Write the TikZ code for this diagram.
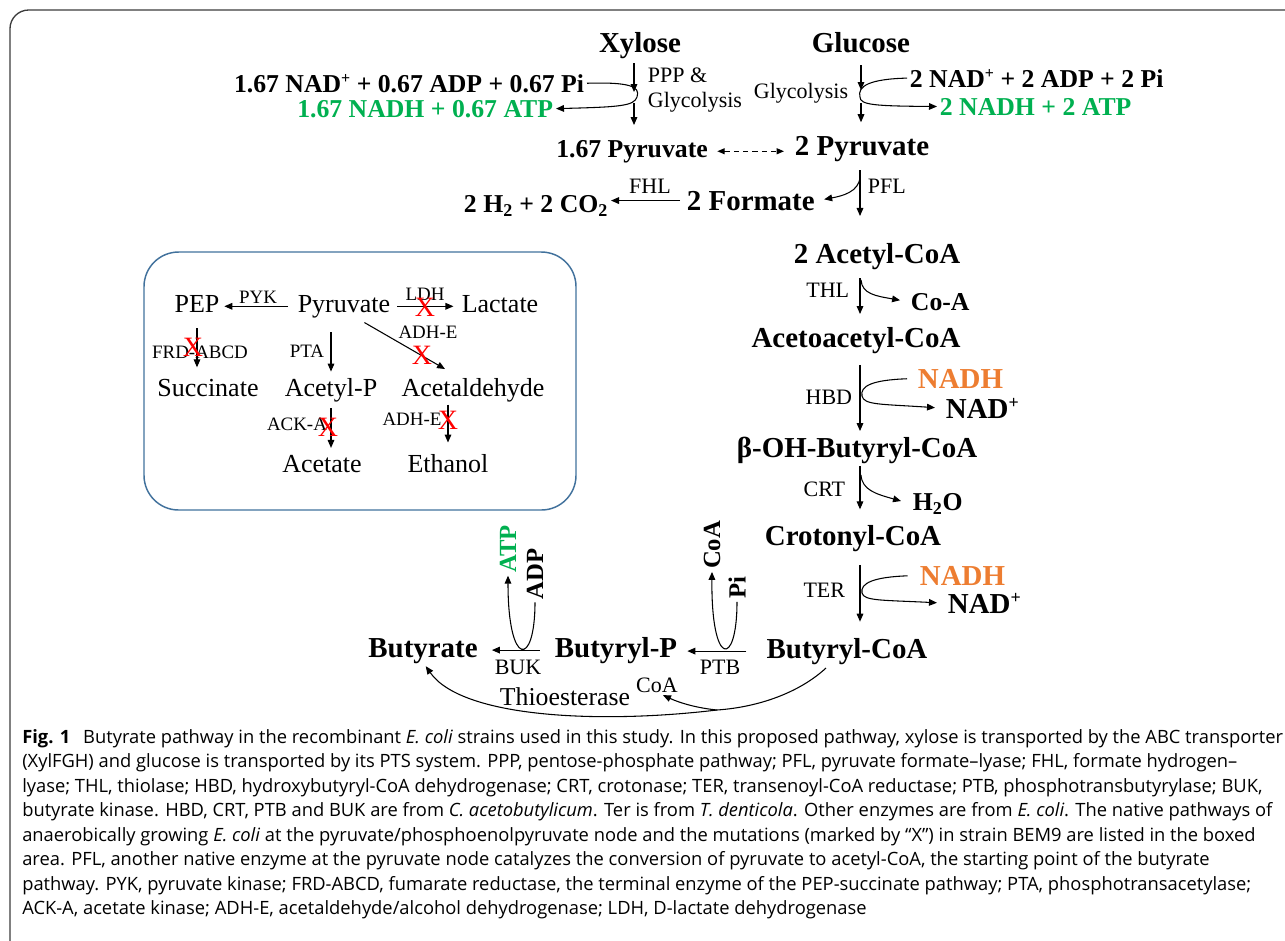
\documentclass[tikz,border=0pt]{standalone}
\usepackage{fontspec}
\setmainfont{Liberation Serif}
\newfontfamily\capfont{Open Sans}
\usepackage{tikz}
\usetikzlibrary{arrows.meta}
\definecolor{atpgreen}{RGB}{0,176,80}
\definecolor{nadhorange}{RGB}{237,125,49}
\definecolor{boxblue}{RGB}{65,113,156}
\definecolor{framegray}{RGB}{60,60,60}
\newcommand{\NADp}{NAD\raisebox{0.72ex}{\scalebox{0.62}{+}}}
\tikzset{
	inner sep=2pt,
	met/.style={font=\fontsize{21.7}{24}\selectfont\bfseries},
	cof/.style={font=\fontsize{19.3}{22}\selectfont\bfseries},
	gain/.style={cof,text=atpgreen},
	redox/.style={met,text=nadhorange},
	vcof/.style={font=\fontsize{18.5}{20}\selectfont\bfseries,rotate=90},
	enz/.style={font=\fontsize{16.5}{18}\selectfont},
	thio/.style={font=\fontsize{19.3}{22}\selectfont},
	boxmet/.style={font=\fontsize{19.5}{22}\selectfont},
	boxenz/.style={font=\fontsize{14.2}{16}\selectfont},
	knock/.style={text=red,font=\fontsize{21}{22}\selectfont,inner sep=0pt},
	pre/.style={-{Triangle[length=6pt,width=5pt]},line width=0.8pt},
	both/.style={{Triangle[length=5.5pt,width=4.5pt]}-{Triangle[length=5.5pt,width=4.5pt]},dash pattern=on 4pt off 3pt,line width=0.8pt},
	pool/.style={draw=boxblue,line width=1.1pt,rounded corners=26pt},
	frame/.style={draw=framegray,line width=1pt,rounded corners=14pt},
	capt/.style={font=\capfont\fontsize{13.75}{18.35}\selectfont,align=left,inner sep=0pt}
}

\begin{document}
\begin{tikzpicture}[x=0.75pt,y=-0.75pt]
\useasboundingbox (0,0) rectangle (1285,940);
\draw[frame] (10,945) -- (10,10) -- (1290,10);

% sugars and glycolysis
\node[met,anchor=base](Xylose) at (640,52) {Xylose};
\node[met,anchor=base](Glucose) at (861,52) {Glucose};
\node[cof,anchor=base east](NADx) at (587,92) {1.67 \NADp{} + 0.67 ADP + 0.67 Pi};
\node[gain,anchor=base east](NADHx) at (556,117) {1.67 NADH + 0.67 ATP};
\node[cof,anchor=base west](NADg) at (907,87) {2 \NADp{} + 2 ADP + 2 Pi};
\node[gain,anchor=base west](NADHg) at (937,115) {2 NADH + 2 ATP};
\node[enz,anchor=base west](PPP) at (645,82) {PPP \&};
\node[enz,anchor=base west](GlyX) at (645,107) {Glycolysis};
\node[enz,anchor=base east](GlyG) at (851,98) {Glycolysis};
\node[cof,anchor=base](PyrX) at (632,157) {1.67 Pyruvate};
\node[met,anchor=base](PyrG) at (862,155) {2 Pyruvate};
\node[met,anchor=base west](Formate) at (684,210) {2 Formate};
\node[cof,anchor=base east](Gas) at (611,212) {2 H\textsubscript{2} + 2 CO\textsubscript{2}};
\node[enz,anchor=base](FHL) at (650,193) {FHL};
\node[enz,anchor=base west](PFL) at (865,193) {PFL};

% butyrate pathway
\node[met,anchor=base](AcCoA) at (877,263) {2 Acetyl-CoA};
\node[enz,anchor=base east](THL) at (852,297) {THL};
\node[cof,anchor=base west](CoA1) at (908,310) {Co-A};
\node[met,anchor=base](AcAc) at (856,347) {Acetoacetyl-CoA};
\node[redox,anchor=base west](NADH1) at (915,388) {NADH};
\node[enz,anchor=base east](HBD) at (855,404) {HBD};
\node[met,anchor=base west](NAD1) at (943,418) {\NADp};
\node[met,anchor=base](OHBut) at (857,457) {β-OH-Butyryl-CoA};
\node[enz,anchor=base east](CRT) at (848,496) {CRT};
\node[cof,anchor=base west](Water) at (910,510) {H\textsubscript{2}O};
\node[met,anchor=base](Crot) at (853,545) {Crotonyl-CoA};
\node[redox,anchor=base west](NADH2) at (917,585) {NADH};
\node[enz,anchor=base east](TER) at (848,597) {TER};
\node[met,anchor=base west](NAD2) at (945,613) {\NADp};
\node[met,anchor=base](ButCoA) at (847,658) {Butyryl-CoA};
\node[met,anchor=base](ButP) at (616,657) {Butyryl-P};
\node[met,anchor=base](Butyrate) at (423,657) {Butyrate};
\node[enz,anchor=base](PTB) at (720,674) {PTB};
\node[enz,anchor=base](BUK) at (518,674) {BUK};
\node[vcof,text=atpgreen](ATP) at (508,549) {ATP};
\node[vcof](ADP) at (535,574) {ADP};
\node[vcof](CoAv) at (712,545) {CoA};
\node[vcof](Pi) at (737,588) {Pi};
\node[thio,anchor=base](Thio) at (565,705) {Thioesterase};
\node[enz,anchor=base](CoAt) at (657,692) {CoA};

% arrows, top
\coordinate (Xtip) at (634,92);
\coordinate (Xout) at (634,103);
\coordinate (Xturn) at (637,97);
\coordinate (Gtip) at (861,90);
\coordinate (Gout) at (861,103);
\coordinate (Gturn) at (860,97);
\draw[pre,shorten <=1.5pt] (Xylose.south -| Xtip) -- (Xtip);
\draw[pre,shorten >=9pt] (Xout) -- (Xout |- PyrX.north);
\draw[pre,shorten <=7.5pt] (Glucose.south -| Gtip) -- (Gtip);
\draw[pre,shorten >=8pt] (Gout) -- (Gout |- PyrG.north);
\draw[pre] (NADx.east) .. controls (628,82) and (641,86) .. (Xturn) .. controls (634,106) and (620,107) .. (NADHx.east);
\draw[pre] (NADg.west) .. controls (870,79) and (857,86) .. (Gturn) .. controls (860,105) and (875,106) .. (NADHg.west);
\draw[both,shorten <=5pt,shorten >=6pt] (PyrX.east) -- (PyrX.east -| PyrG.west);

% arrows, pathway
\coordinate (spine) at (860,0);
\coordinate (Ffork) at (860,177);
\coordinate (Tfork) at (861,280);
\coordinate (Hturn) at (862,396);
\coordinate (Cfork) at (861,475);
\coordinate (Rturn) at (862,593);
\draw[pre,shorten <=4.5pt,shorten >=18pt] (PyrG.south -| spine) -- (AcCoA.north -| spine);
\draw[pre,shorten >=5pt] (Ffork) .. controls (859,192) and (842,196) .. (Formate.east);
\draw[pre,shorten <=3pt] (Formate.west) -- (Formate.west -| Gas.east);
\draw[pre,shorten <=4.5pt,shorten >=7.5pt] (AcCoA.south -| spine) -- (AcAc.north -| spine);
\draw[pre,shorten >=6pt] (Tfork) .. controls (862,294) and (876,296) .. (CoA1.west);
\draw[pre,shorten <=6.5pt,shorten >=2pt] (AcAc.south -| spine) -- (OHBut.north -| spine);
\draw[pre,shorten <=6pt,shorten >=6pt] (NADH1.west) .. controls (872,380) and (860,386) .. (Hturn) .. controls (864,405) and (880,404) .. (NAD1.west);
\draw[pre,shorten >=9.5pt] (OHBut.south -| spine) -- (Crot.north -| spine);
\draw[pre,shorten >=7pt] (Cfork) .. controls (862,490) and (876,494) .. (Water.west);
\draw[pre,shorten <=8pt,shorten >=10pt] (Crot.south -| spine) -- (ButCoA.north -| spine);
\draw[pre,shorten <=7pt,shorten >=6pt] (NADH2.west) .. controls (874,577) and (860,583) .. (Rturn) .. controls (864,601) and (882,600) .. (NAD2.west);
\draw[pre,shorten <=13pt,shorten >=5.5pt] (ButCoA.west) -- (ButCoA.west -| ButP.east);
\draw[pre,shorten <=9pt,shorten >=8.5pt] (ButP.west) -- (ButP.west -| Butyrate.east);
\draw[pre] (Pi.west) .. controls (737,668) and (711,668) .. (CoAv.west);
\draw[pre] (ADP.west) .. controls (535,668) and (508,668) .. (ATP.west);
\coordinate (Tstart) at (826,668);
\coordinate (Tjoin) at (717,710);
\draw[pre] (Tstart) .. controls (800,692) and (760,707) .. (Tjoin) .. controls (600,724) and (462,718) .. (Butyrate.-80);
\draw[pre] (Tjoin) .. controls (697,708) and (680,703) .. (CoAt.-60);

% native pathways in the box
\draw[pool] (144,252) rectangle (576,510);
\node[boxmet,anchor=base](PEP) at (197,312) {PEP};
\node[boxmet,anchor=base](Pyr) at (344,312) {Pyruvate};
\node[boxmet,anchor=base](Lactate) at (500,312) {Lactate};
\node[boxmet,anchor=base](Succinate) at (208,396) {Succinate};
\node[boxmet,anchor=base](AcP) at (331,396) {Acetyl-P};
\node[boxmet,anchor=base](AcAld) at (473,396) {Acetaldehyde};
\node[boxmet,anchor=base](Acetate) at (322,472) {Acetate};
\node[boxmet,anchor=base](Ethanol) at (448,472) {Ethanol};
\node[boxenz,anchor=base](PYK) at (258,303) {PYK};
\node[boxenz,anchor=base](LDH) at (425,300) {LDH};
\node[boxenz,anchor=base](FRD) at (200,358) {FRD-ABCD};
\node[boxenz,anchor=base](PTA) at (307,357) {PTA};
\node[boxenz,anchor=base](ADHa) at (428,338) {ADH-E};
\node[boxenz,anchor=base](ACK) at (297,430) {ACK-A};
\node[boxenz,anchor=base](ADHb) at (412,425) {ADH-E};
\draw[pre,shorten <=5pt,shorten >=1.5pt] (Pyr.west) -- (Pyr.west -| PEP.east);
\draw[pre,shorten <=3pt,shorten >=4pt] (Pyr.east) -- (Pyr.east -| Lactate.west);
\draw[pre,shorten <=10pt,shorten >=6.4pt] (PEP.south) -- (PEP.south |- Succinate.north);
\draw[pre,shorten <=8.8pt,shorten >=2.6pt] (AcP.north |- Pyr.south) -- (AcP.north);
\draw[pre,shorten <=3pt,shorten >=9pt] (Pyr.-40) -- (AcAld.140);
\draw[pre,shorten <=2.8pt,shorten >=3pt] (AcP.south) -- (AcP.south |- Acetate.north);
\draw[pre,shorten >=6.4pt] (Ethanol.north |- AcAld.south) -- (Ethanol.north);
\node[knock](xLDH) at (425,307) {X};
\node[knock](xFRD) at (193,347) {X};
\node[knock](xADHa) at (422,355) {X};
\node[knock](xACK) at (328,427) {X};
\node[knock](xADHb) at (448,420) {X};

% caption
\node[capt,anchor=north west](Caption) at (22,729) {\textbf{Fig. 1}\hspace{0.7em}Butyrate pathway in the recombinant \textit{E. coli} strains used in this study. In this proposed pathway, xylose is transported by the ABC transporter\\
(XylFGH) and glucose is transported by its PTS system. PPP, pentose-phosphate pathway; PFL, pyruvate formate–lyase; FHL, formate hydrogen–\\
lyase; THL, thiolase; HBD, hydroxybutyryl-CoA dehydrogenase; CRT, crotonase; TER, transenoyl-CoA reductase; PTB, phosphotransbutyrylase; BUK,\\
butyrate kinase. HBD, CRT, PTB and BUK are from \textit{C. acetobutylicum}. Ter is from \textit{T. denticola}. Other enzymes are from \textit{E. coli}. The native pathways of\\
anaerobically growing \textit{E. coli} at the pyruvate/phosphoenolpyruvate node and the mutations (marked by “X”) in strain BEM9 are listed in the boxed\\
area. PFL, another native enzyme at the pyruvate node catalyzes the conversion of pyruvate to acetyl-CoA, the starting point of the butyrate\\
pathway. PYK, pyruvate kinase; FRD-ABCD, fumarate reductase, the terminal enzyme of the PEP-succinate pathway; PTA, phosphotransacetylase;\\
ACK-A, acetate kinase; ADH-E, acetaldehyde/alcohol dehydrogenase; LDH, D-lactate dehydrogenase};
\end{tikzpicture}
\end{document}
